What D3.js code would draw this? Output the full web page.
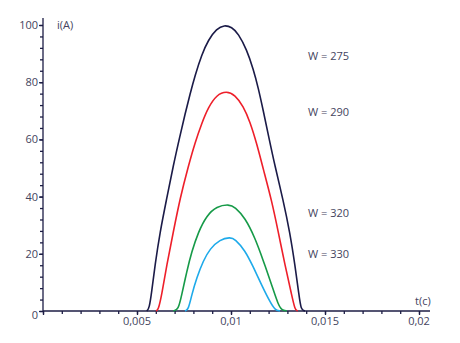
<!DOCTYPE html>
<html>
<head>
<meta charset="utf-8">
<script src="https://cdn.jsdelivr.net/npm/d3@7"></script>
<style>
  html, body { margin: 0; padding: 0; background: #fff; }
  svg { display: block; font-family: "Open Sans", sans-serif; }
</style>
</head>
<body>
<svg id="chart" width="460" height="343"></svg>
<script>
// Current pulses i(t) for several values of W
const seriesNames = ["W = 275", "W = 290", "W = 320", "W = 330"];
const seriesColors = ["#1b1b48", "#ee1f2a", "#169a48", "#1eaaea"];

const tW275 = [0.005516, 0.005654, 0.005782, 0.005957, 0.006223, 0.006580, 0.006931, 0.007287, 0.007553, 0.007819, 0.008085, 0.008441, 0.008793, 0.009239, 0.009640, 0.010040, 0.010388, 0.010835, 0.011186, 0.011452, 0.011718, 0.011984, 0.012340, 0.012782, 0.013138, 0.013404, 0.013617, 0.013723, 0.013936];
const iW275 = [0, 0.9, 6.7, 16.0, 27.6, 39.3, 50.9, 61.3, 68.8, 75.8, 82.3, 89.6, 94.8, 98.7, 100.0, 99.3, 97.0, 91.4, 84.6, 78.0, 70.0, 61.6, 50.6, 38.6, 27.2, 16.0, 5.6, 0.3, 0];

const tW290 = [0.006011, 0.006133, 0.006314, 0.006580, 0.006931, 0.007287, 0.007729, 0.008085, 0.008441, 0.008793, 0.009239, 0.009760, 0.010213, 0.010654, 0.011010, 0.011367, 0.011718, 0.012165, 0.012516, 0.012872, 0.013229, 0.013404, 0.013548];
const iW290 = [0, 0.35, 5.6, 16.0, 27.6, 39.3, 50.6, 58.8, 65.6, 71.2, 75.6, 76.9, 75.6, 71.6, 66.2, 58.6, 49.6, 38.6, 27.6, 16.0, 5.6, 0.35, 0];

const tW320 = [0.006931, 0.007197, 0.007377, 0.007643, 0.007909, 0.008260, 0.008707, 0.009239, 0.009894, 0.010213, 0.010745, 0.011277, 0.011718, 0.012165, 0.012516, 0.012697, 0.012963];
const iW320 = [0, 0.35, 5.6, 13.7, 20.7, 27.6, 33.4, 36.6, 37.3, 36.4, 32.6, 25.6, 17.6, 9.1, 2.1, 0.35, 0];

const tW330 = [0.007553, 0.007729, 0.007909, 0.008176, 0.008527, 0.008883, 0.009415, 0.009947, 0.010213, 0.010745, 0.011186, 0.011628, 0.012074, 0.012340, 0.012606];
const iW330 = [0, 0.35, 5.6, 11.6, 17.6, 21.8, 25.0, 25.8, 25.2, 21.2, 15.4, 9.1, 3.2, 0.35, 0];

const seriesT = [tW275, tW290, tW320, tW330];
const seriesI = [iW275, iW290, iW320, iW330];
// value at which each series label sits
const labelI = [89, 69.5, 34.3, 20];

const xTickValues = [0.005, 0.01, 0.015, 0.02];
const xTickLabels = ["0,005", "0,01", "0,015", "0,02"];
const yTickValues = [0, 20, 40, 60, 80, 100];
const yTickLabels = ["0", "20", "40", "60", "80", "100"];
const xMinorStep = 0.001;
const yMinorStep = 4;

const axisColor = "#1d1d45";
const textColor = "#44445e";

const svg = d3.select("#chart");
const x = d3.scaleLinear().domain([0, 0.02]).range([43, 419]);
const y = d3.scaleLinear().domain([0, 100]).range([311, 25]);

// minor ticks
const xMinor = d3.range(0, 0.0205, xMinorStep);
const yMinor = d3.range(0, 101, yMinorStep);

const gx = svg.append("g").attr("transform", `translate(0,${y(0)})`);
gx.call(d3.axisBottom(x).tickValues(xMinor).tickSize(3).tickFormat(""));
gx.append("g").call(d3.axisBottom(x).tickValues([0, ...xTickValues]).tickSize(4).tickFormat(""));
gx.selectAll("path.domain").remove();
gx.append("line").attr("x1", x(0)).attr("x2", 430).attr("y1", 0).attr("y2", 0);

const gy = svg.append("g").attr("transform", `translate(${x(0)},0)`);
gy.call(d3.axisLeft(y).tickValues(yMinor).tickSize(3).tickFormat(""));
gy.append("g").call(d3.axisLeft(y).tickValues(yTickValues).tickSize(4).tickFormat(""));
gy.selectAll("path.domain").remove();
gy.append("line").attr("x1", 0).attr("x2", 0).attr("y1", y(0)).attr("y2", 18);

svg.selectAll(".tick line, g > line").attr("stroke", axisColor).attr("stroke-width", 1.3);

// tick labels
svg.append("g").selectAll("text")
  .data(xTickValues)
  .join("text")
  .attr("x", d => x(d))
  .attr("y", y(0) + 14)
  .attr("text-anchor", "middle")
  .attr("font-size", 11)
  .attr("fill", textColor)
  .text((d, i) => xTickLabels[i]);

svg.append("g").selectAll("text")
  .data(yTickValues)
  .join("text")
  .attr("x", x(0) - 5)
  .attr("y", d => y(d) + (d === 0 ? 8 : 4))
  .attr("text-anchor", "end")
  .attr("font-size", 11)
  .attr("fill", textColor)
  .text((d, i) => yTickLabels[i]);

// axis titles
svg.append("text").attr("x", 57).attr("y", 29).attr("font-size", 11).attr("fill", textColor).text("i(A)");
svg.append("text").attr("x", 415).attr("y", 305).attr("font-size", 11).attr("fill", textColor).text("t(c)");

// curves
const line = d3.line()
  .x(d => x(d[0]))
  .y(d => y(d[1]))
  .curve(d3.curveBasis);

seriesT.forEach((ts, k) => {
  const pts = ts.map((t, j) => [t, seriesI[k][j]]);
  svg.append("path")
    .datum(pts)
    .attr("d", line)
    .attr("fill", "none")
    .attr("stroke", seriesColors[k])
    .attr("stroke-width", 1.6)
    .attr("stroke-linejoin", "round");
});

// series labels
svg.append("g").selectAll("text")
  .data(seriesNames)
  .join("text")
  .attr("x", 308)
  .attr("y", (d, i) => y(labelI[i]) + 4)
  .attr("font-size", 11)
  .attr("fill", textColor)
  .text(d => d);
</script>
</body>
</html>
